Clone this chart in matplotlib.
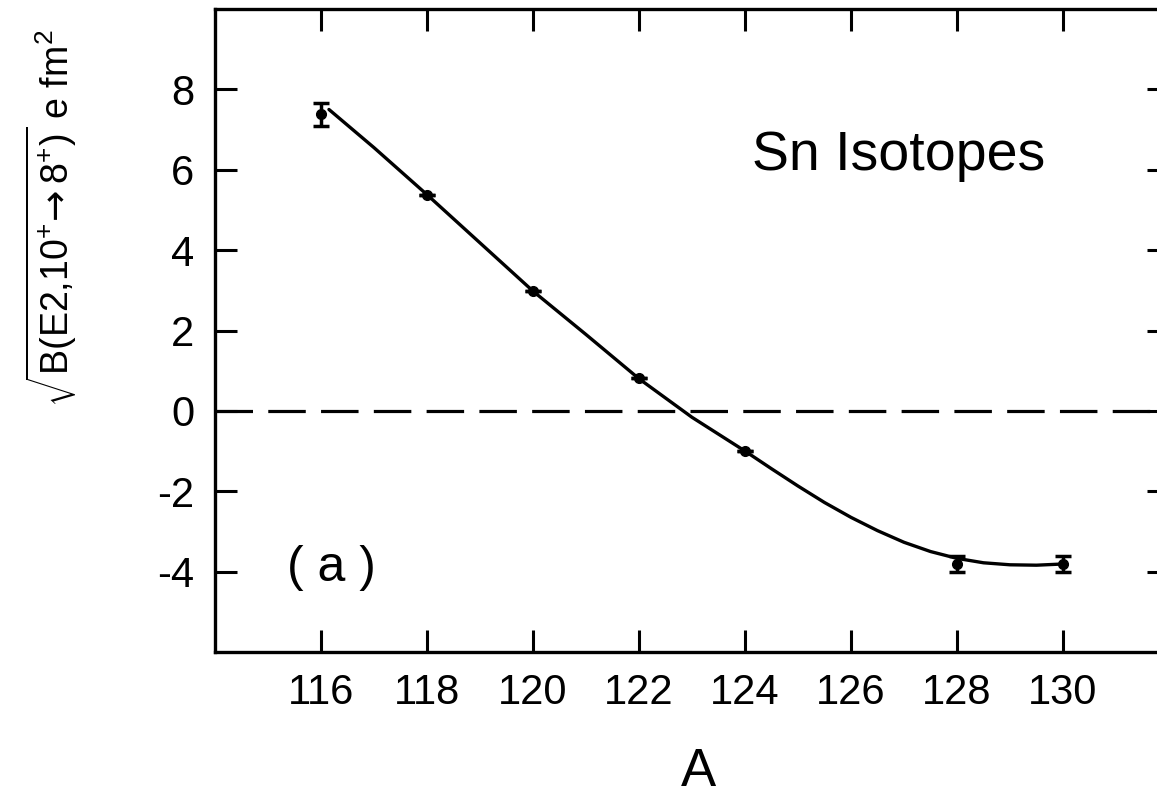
import matplotlib
matplotlib.use("Agg")
import matplotlib.pyplot as plt

plt.rcParams['font.family'] = ['Liberation Sans', 'DejaVu Sans']
plt.rcParams['mathtext.fontset'] = 'custom'
plt.rcParams['mathtext.rm'] = 'Liberation Sans'
plt.rcParams['mathtext.it'] = 'Liberation Sans'
plt.rcParams['mathtext.bf'] = 'Liberation Sans:bold'
plt.rcParams['mathtext.sf'] = 'DejaVu Sans'
plt.rcParams['lines.scale_dashes'] = False
plt.rcParams['axes.unicode_minus'] = False

# measured points (mass number A, sqrt(B(E2)) in e fm^2)
A_data = [116, 118, 120, 122, 124, 128, 130]
B_data = [7.38, 5.38, 2.98, 0.82, -0.99, -3.80, -3.80]
B_err = [0.28, 0.0, 0.0, 0.0, 0.0, 0.20, 0.20]

# calculated curve
A_curve = [116.15, 117, 118, 119, 120, 121, 122, 123, 124, 124.5, 125, 125.5, 126,
           126.5, 127, 127.5, 128, 128.5, 129, 129.5, 130]
B_curve = [7.50, 6.55, 5.38, 4.18, 2.98, 1.90, 0.80, -0.16, -1.00, -1.44, -1.87, -2.28, -2.65,
           -2.98, -3.27, -3.50, -3.67, -3.78, -3.83, -3.84, -3.81]

x_ticks = [116, 118, 120, 122, 124, 126, 128, 130]
y_ticks = [-4, -2, 0, 2, 4, 6, 8]

fig = plt.figure(figsize=(11.57, 7.96), dpi=100)
ax = fig.add_axes([215 / 1157, 1 - 652 / 796, (1169 - 215) / 1157, (652 - 9) / 796])

ax.axhline(0, color='black', lw=2.3, dashes=(27, 11))
ax.plot(A_curve, B_curve, color='black', lw=2.4, solid_capstyle='round',
        solid_joinstyle='round')
ax.errorbar(A_data, B_data, yerr=B_err, fmt='o', color='black', markersize=7,
            elinewidth=2.5, capsize=6, capthick=2.5)

ax.set_xlim(114, 132)
ax.set_ylim(-6, 10)
ax.set_xticks(x_ticks)
ax.set_yticks(y_ticks)
ax.tick_params(direction='in', length=16, width=2.2, labelsize=30, pad=15,
               top=True, right=True)
for s in ax.spines.values():
    s.set_linewidth(2.4)

ax.text(126.9, 6.35, 'Sn Isotopes', fontsize=40, ha='center', va='center')
ax.text(115.35, -3.9, '( a )', fontsize=36, ha='left', va='center')

fig.text(698 / 1157, 1 - 772 / 796, 'A', fontsize=38, ha='center', va='center')
fig.text(51 / 1157, 1 - 218 / 796,
         r'$\sqrt{\mathrm{B(E2{,}10^{+}}\!\mathsf{\rightarrow}\mathrm{8^{+})}}$ e fm$^{2}$',
         fontsize=27, rotation=90, ha='center', va='center')

fig.savefig('out.png', dpi=100)
